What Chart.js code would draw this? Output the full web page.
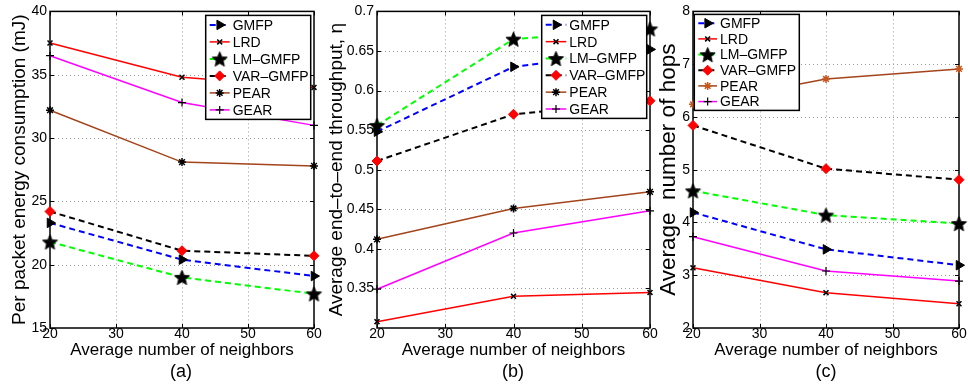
<!DOCTYPE html>
<html>
<head>
<meta charset="utf-8">
<script src="https://cdn.jsdelivr.net/npm/chart.js@4.4.1/dist/chart.umd.min.js"></script>
<style>
  html, body { margin: 0; padding: 0; background: #fff; }
  #fig { position: relative; width: 968px; height: 389px; overflow: hidden; background: #fff;
         font-family: 'Liberation Sans', Arial, sans-serif; }
  #fig canvas { position: absolute; top: 0; }
  .cap { position: absolute; top: 361px; width: 60px; margin-left: -30px; text-align: center;
         font-size: 18px; line-height: 20px; color: #000; }
</style>
</head>
<body>
<div id="fig">
  <canvas id="chartA" width="330" height="389" style="left:0px"></canvas>
  <canvas id="chartB" width="338" height="389" style="left:322px"></canvas>
  <canvas id="chartC" width="313" height="389" style="left:655px"></canvas>
  <div class="cap" style="left:181px">(a)</div>
  <div class="cap" style="left:513px">(b)</div>
  <div class="cap" style="left:826px">(c)</div>
</div>
<script>
// Données
const neighbors = [20, 40, 60];
const xTickValues = [20, 30, 40, 50, 60];
const seriesNames = ['GMFP', 'LRD', 'LM\u2013GMFP', 'VAR\u2013GMFP', 'PEAR', 'GEAR'];

// (a) énergie par paquet (mJ)
const energyGMFP = [23.3, 20.4, 19.1];
const energyLRD = [37.5, 34.8, 34.0];
const energyLM = [21.8, 19.0, 17.7];
const energyVAR = [24.2, 21.1, 20.7];
const energyPEAR = [32.2, 28.1, 27.8];
const energyGEAR = [36.5, 32.8, 31.0];
const energyTicks = [15, 20, 25, 30, 35, 40];

// (b) débit de bout en bout
const thrGMFP = [0.548, 0.630, 0.652];
const thrLRD = [0.308, 0.340, 0.345];
const thrLM = [0.556, 0.665, 0.678];
const thrVAR = [0.511, 0.570, 0.587];
const thrPEAR = [0.412, 0.451, 0.472];
const thrGEAR = [0.349, 0.420, 0.448];
const thrTicks = [0.35, 0.4, 0.45, 0.5, 0.55, 0.6, 0.65, 0.7];

// (c) nombre de sauts
const hopsGMFP = [4.19, 3.49, 3.19];
const hopsLRD = [3.14, 2.67, 2.46];
const hopsLM = [4.60, 4.14, 3.98];
const hopsVAR = [5.84, 5.02, 4.81];
const hopsPEAR = [6.24, 6.72, 6.91];
const hopsGEAR = [3.73, 3.08, 2.89];
const hopsTicks = [2, 3, 4, 5, 6, 7, 8];

Chart.defaults.font.family = "'Liberation Sans', Arial, sans-serif";
Chart.defaults.color = '#000';

// étoile pleine (pentagramme) pour LM-GMFP
function makePentagram(size) {
  const c = document.createElement('canvas');
  c.width = size; c.height = size;
  const g = c.getContext('2d');
  const R = size / 2 - 0.5, r = R * 0.45, cx = size / 2, cy = size / 2 + 0.8;
  g.beginPath();
  for (let i = 0; i < 10; i++) {
    const rad = (i % 2 === 0 ? R : r);
    const a = -Math.PI / 2 + i * Math.PI / 5;
    g.lineTo(cx + rad * Math.cos(a), cy + rad * Math.sin(a));
  }
  g.closePath();
  g.fillStyle = '#000';
  g.fill();
  g.strokeStyle = '#000';
  g.lineWidth = 0.8;
  g.stroke();
  return c;
}
const pentagram = makePentagram(17);

function buildDatasets(values, pearMarker) {
  const styles = [
    { borderColor: '#0000ff', borderDash: [6, 4], borderWidth: 2, pointStyle: 'triangle', pointRotation: 90,
      pointRadius: 5.5, pointBackgroundColor: '#000', pointBorderColor: '#000', pointBorderWidth: 1 },
    { borderColor: '#ff0000', borderDash: [], borderWidth: 1.5, pointStyle: 'crossRot',
      pointRadius: 3.5, pointBackgroundColor: '#000', pointBorderColor: '#000', pointBorderWidth: 1.5 },
    { borderColor: '#00ff00', borderDash: [6, 4], borderWidth: 2, pointStyle: pentagram,
      pointRadius: 8, pointBackgroundColor: '#000', pointBorderColor: '#000', pointBorderWidth: 0 },
    { borderColor: '#000000', borderDash: [6, 4], borderWidth: 2, pointStyle: 'rectRot',
      pointRadius: 5, pointBackgroundColor: '#ff0000', pointBorderColor: '#ff0000', pointBorderWidth: 1 },
    { borderColor: '#a3441b', borderDash: [], borderWidth: 1.5, pointStyle: 'star',
      pointRadius: 4, pointBackgroundColor: pearMarker, pointBorderColor: pearMarker, pointBorderWidth: 1.5 },
    { borderColor: '#ff00ff', borderDash: [], borderWidth: 1.5, pointStyle: 'cross',
      pointRadius: 4, pointBackgroundColor: '#000', pointBorderColor: '#000', pointBorderWidth: 1.2 }
  ];
  return values.map((arr, i) => Object.assign({
    label: seriesNames[i],
    data: arr.map((v, k) => ({ x: neighbors[k], y: v })),
    tension: 0,
    clip: false,
    pointHoverRadius: 0
  }, styles[i]));
}

function drawMarker(ctx, ds, x, y) {
  ctx.save();
  ctx.fillStyle = ds.pointBackgroundColor;
  ctx.strokeStyle = ds.pointBorderColor;
  ctx.lineWidth = ds.pointBorderWidth;
  ctx.setLineDash([]);
  if (Chart.helpers && Chart.helpers.drawPoint) {
    Chart.helpers.drawPoint(ctx, {
      pointStyle: ds.pointStyle, rotation: ds.pointRotation || 0,
      radius: ds.pointRadius, borderWidth: ds.pointBorderWidth
    }, x, y);
  }
  ctx.restore();
}

// cadre façon MATLAB : grille pointillée, boîte, graduations, légende encadrée
const matlabFrame = {
  id: 'matlabFrame',
  beforeDatasetsDraw(chart) {
    const { ctx, chartArea: a, scales: { x, y } } = chart;
    ctx.save();
    ctx.strokeStyle = '#9a9a9a';
    ctx.lineWidth = 1;
    ctx.setLineDash([1, 3]);
    ctx.beginPath();
    x.ticks.forEach(t => {
      if (t.value <= x.min || t.value >= x.max) return;
      const px = Math.round(x.getPixelForValue(t.value)) + 0.5;
      ctx.moveTo(px, a.top); ctx.lineTo(px, a.bottom);
    });
    y.ticks.forEach(t => {
      if (t.value <= y.min + 1e-9 || t.value >= y.max - 1e-9) return;
      const py = Math.round(y.getPixelForValue(t.value)) + 0.5;
      ctx.moveTo(a.left, py); ctx.lineTo(a.right, py);
    });
    ctx.stroke();
    ctx.setLineDash([]);

    ctx.strokeStyle = '#000';
    ctx.lineWidth = 1;
    ctx.beginPath();
    const tl = 4;
    x.ticks.forEach(t => {
      const px = Math.round(x.getPixelForValue(t.value)) + 0.5;
      ctx.moveTo(px, a.bottom); ctx.lineTo(px, a.bottom - tl);
      ctx.moveTo(px, a.top); ctx.lineTo(px, a.top + tl);
    });
    y.ticks.forEach(t => {
      const py = Math.round(y.getPixelForValue(t.value)) + 0.5;
      ctx.moveTo(a.left, py); ctx.lineTo(a.left + tl, py);
      ctx.moveTo(a.right, py); ctx.lineTo(a.right - tl, py);
    });
    ctx.stroke();

    ctx.lineWidth = 1.5;
    ctx.strokeRect(a.left, a.top, a.right - a.left, a.bottom - a.top);
    ctx.restore();
  },
  afterDatasetsDraw(chart, args, opts) {
    const L = opts.legend;
    if (!L) return;
    const { ctx, chartArea: a } = chart;
    const bx = L.side === 'right' ? a.right - L.inset - L.width : a.left + L.inset;
    const by = a.top + L.top;
    ctx.save();
    ctx.fillStyle = '#fff';
    ctx.fillRect(bx, by, L.width, L.height);
    ctx.strokeStyle = '#000';
    ctx.lineWidth = 1.5;
    ctx.strokeRect(bx, by, L.width, L.height);

    const sets = chart.data.datasets;
    const rowH = (L.height - 2) / sets.length;
    ctx.font = '14px "Liberation Sans", Arial, sans-serif';
    ctx.textBaseline = 'middle';
    ctx.textAlign = 'left';
    sets.forEach((ds, i) => {
      const cy = by + 1 + rowH * (i + 0.5);
      const x0 = bx + 4, x1 = bx + L.textOffset - 3;
      ctx.save();
      ctx.strokeStyle = ds.borderColor;
      ctx.lineWidth = ds.borderWidth;
      ctx.setLineDash(ds.borderDash || []);
      ctx.beginPath();
      ctx.moveTo(x0, cy); ctx.lineTo(x1, cy);
      ctx.stroke();
      ctx.restore();
      drawMarker(ctx, ds, (x0 + x1) / 2, cy);
      ctx.fillStyle = '#000';
      ctx.fillText(ds.label, bx + L.textOffset, cy + 1);
    });
    ctx.restore();
  }
};

function makePanel(id, cfg) {
  return new Chart(document.getElementById(id), {
    type: 'line',
    data: { datasets: buildDatasets(cfg.values, cfg.pearMarker) },
    plugins: [matlabFrame],
    options: {
      responsive: false,
      animation: false,
      events: [],
      layout: { padding: { top: 11, right: cfg.padRight, left: 0, bottom: 0 } },
      plugins: {
        legend: { display: false },
        tooltip: { enabled: false },
        matlabFrame: { legend: cfg.legend }
      },
      scales: {
        x: {
          type: 'linear',
          min: 20,
          max: 60,
          afterBuildTicks: s => { s.ticks = xTickValues.map(v => ({ value: v })); },
          afterFit: s => { s.height = 61; },
          grid: { display: false, drawTicks: false },
          border: { display: false },
          ticks: { padding: -2, font: { size: 14 }, color: '#000', maxRotation: 0 },
          title: {
            display: true,
            text: 'Average number of neighbors',
            font: { size: 17 },
            color: '#000',
            padding: { top: 0, bottom: 28.5 }
          }
        },
        y: {
          type: 'linear',
          min: cfg.yMin,
          max: cfg.yMax,
          afterBuildTicks: s => { s.ticks = cfg.yTicks.map(v => ({ value: v })); },
          afterFit: s => { s.width = cfg.yWidth; },
          grid: { display: false, drawTicks: false },
          border: { display: false },
          ticks: {
            padding: 3,
            font: { size: 14 },
            color: '#000',
            callback: v => String(+v.toFixed(2))
          },
          title: {
            display: true,
            text: cfg.yTitle,
            font: { size: cfg.yTitleSize },
            color: '#000',
            padding: { top: cfg.yTitlePad, bottom: 0 }
          }
        }
      }
    }
  });
}

makePanel('chartA', {
  values: [energyGMFP, energyLRD, energyLM, energyVAR, energyPEAR, energyGEAR],
  pearMarker: '#000',
  yMin: 15, yMax: 40, yTicks: energyTicks,
  yTitle: 'Per packet energy consumption (mJ)',
  yTitleSize: 19, yWidth: 50, yTitlePad: 8.6, padRight: 16,
  legend: { side: 'right', inset: 3.3, top: 4, width: 105, height: 104, textOffset: 27 }
});

makePanel('chartB', {
  values: [thrGMFP, thrLRD, thrLM, thrVAR, thrPEAR, thrGEAR],
  pearMarker: '#000',
  yMin: 0.3, yMax: 0.7, yTicks: thrTicks,
  yTitle: 'Average end\u2013to\u2013end throughput, \u03b7',
  yTitleSize: 19, yWidth: 55, yTitlePad: 3.6, padRight: 10,
  legend: { side: 'right', inset: 3.3, top: 4, width: 105, height: 103, textOffset: 27.6 }
});

makePanel('chartC', {
  values: [hopsGMFP, hopsLRD, hopsLM, hopsVAR, hopsPEAR, hopsGEAR],
  pearMarker: '#c4561e',
  yMin: 2, yMax: 8, yTicks: hopsTicks,
  yTitle: 'Average  number of hops',
  yTitleSize: 22.5, yWidth: 38, yTitlePad: 0.5, padRight: 9,
  legend: { side: 'left', inset: 1.3, top: 3, width: 105, height: 96, textOffset: 25.7 }
});
</script>
</body>
</html>
